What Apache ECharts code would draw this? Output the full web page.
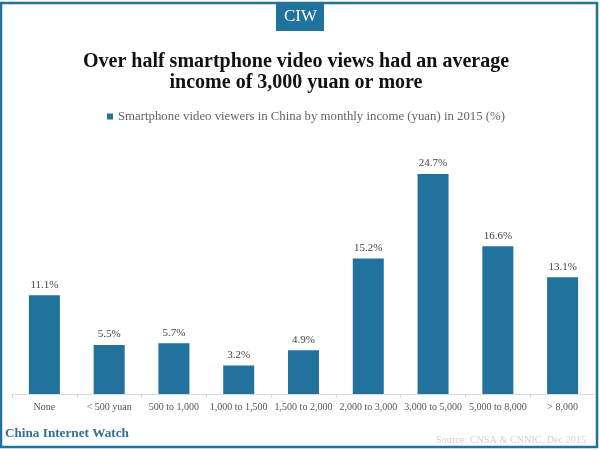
<!DOCTYPE html>
<html>
<head>
<meta charset="utf-8">
<style>
html, body { margin: 0; padding: 0; background: #fff; }
#chart { width: 600px; height: 450px; }
</style>
<script src="https://cdn.jsdelivr.net/npm/echarts@6/dist/echarts.min.js"></script>
</head>
<body>
<div id="chart"></div>
<script>
var categories = ['None', '< 500 yuan', '500 to 1,000', '1,000 to 1,500', '1,500 to 2,000', '2,000 to 3,000', '3,000 to 5,000', '5,000 to 8,000', '> 8,000'];
var shares = [11.1, 5.5, 5.7, 3.2, 4.9, 15.2, 24.7, 16.6, 13.1];
var seriesName = 'Smartphone video viewers in China by monthly income (yuan) in 2015 (%)';

var teal = '#21729c';
var serif = '"Liberation Serif", serif';
var myChart = echarts.init(document.getElementById('chart'), null, { renderer: 'canvas' });

var option = {
    animation: false,
    backgroundColor: '#fff',
    title: {
        text: 'Over half smartphone video views had an average\nincome of 3,000 yuan or more',
        left: 291,
        textAlign: 'center',
        top: 46,
        textStyle: {
            fontFamily: serif,
            fontSize: 20,
            fontWeight: 'bold',
            color: '#111',
            lineHeight: 21
        }
    },
    legend: {
        data: [seriesName],
        top: 105,
        left: 102,
        icon: 'rect',
        itemWidth: 6,
        itemHeight: 6,
        itemGap: 4,
        textStyle: {
            fontFamily: serif,
            fontSize: 12.8,
            color: '#666'
        }
    },
    grid: { left: 12, right: 5, top: 130, bottom: 56 },
    xAxis: {
        type: 'category',
        data: categories,
        axisLine: { lineStyle: { color: '#d9d9d9' } },
        axisTick: { show: true, length: 4, lineStyle: { color: '#d9d9d9' } },
        axisLabel: {
            interval: 0,
            fontFamily: serif,
            fontSize: 10,
            color: '#555',
            margin: 8
        }
    },
    yAxis: {
        type: 'value',
        min: 0,
        max: 29.64,
        show: false
    },
    series: [
        {
            name: seriesName,
            type: 'bar',
            barWidth: 31,
            data: shares,
            itemStyle: { color: teal },
            label: {
                show: true,
                position: 'top',
                distance: 5,
                formatter: '{c}%',
                fontFamily: serif,
                fontSize: 11,
                color: '#444'
            }
        }
    ],
    graphic: [
        {
            type: 'rect',
            shape: { x: 1, y: 3, width: 596, height: 444 },
            style: { fill: 'transparent', stroke: teal, lineWidth: 2.5 },
            silent: true
        },
        {
            type: 'rect',
            shape: { x: 276, y: 2, width: 48, height: 29 },
            style: { fill: teal },
            silent: true
        },
        {
            type: 'text',
            left: 284,
            top: 8,
            style: { text: 'CIW', fill: '#fff', font: '17px ' + serif }
        },
        {
            type: 'text',
            left: 5,
            top: 427,
            style: { text: 'China Internet Watch', fill: '#2f6f8f', font: 'bold 13.2px ' + serif }
        },
        {
            type: 'text',
            right: 14,
            top: 435,
            style: { text: 'Source: CNSA & CNNIC, Dec 2015', fill: '#d2d2d2', font: '10.2px ' + serif }
        }
    ]
};
myChart.setOption(option);
</script>
</body>
</html>
